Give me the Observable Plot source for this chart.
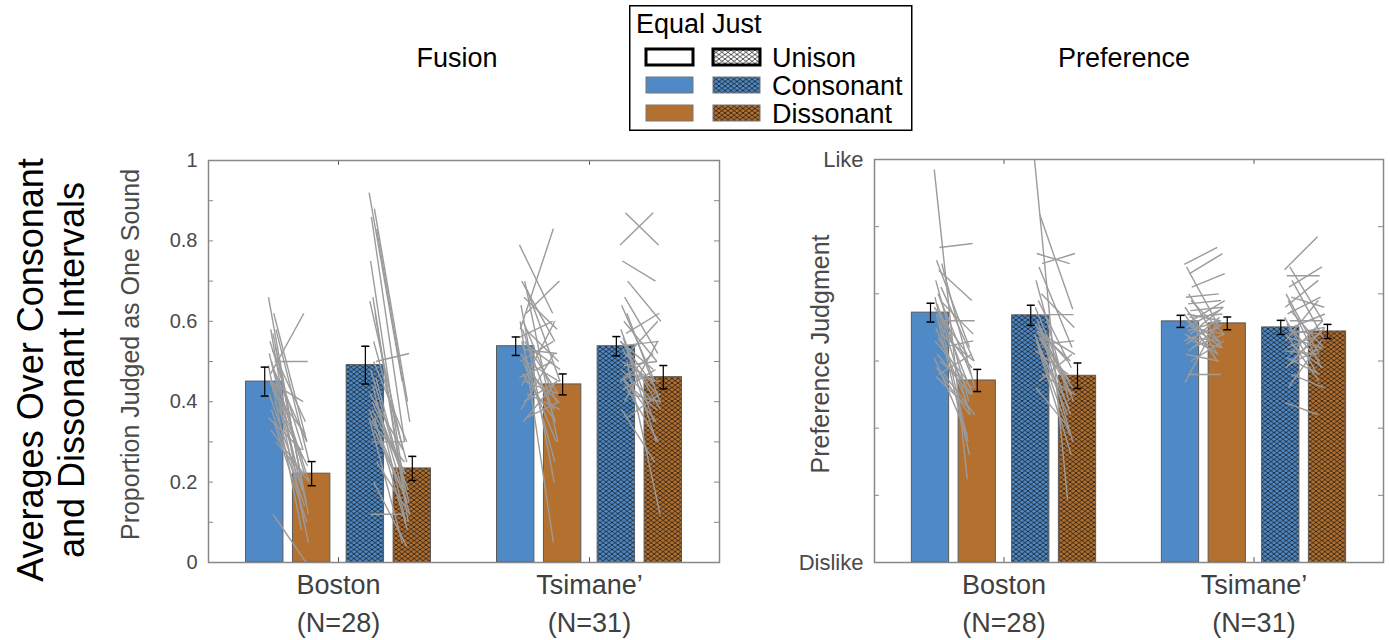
<!DOCTYPE html>
<html><head><meta charset="utf-8">
<script src="https://cdn.jsdelivr.net/npm/d3@7"></script>
<script src="https://cdn.jsdelivr.net/npm/@observablehq/plot@0.6"></script>
<style>
body{margin:0;background:#fff;font-family:"Liberation Sans",Arial,Helvetica,sans-serif;}
#root{position:relative;width:1390px;height:640px;overflow:hidden;background:#fff;}
.abs{position:absolute;}
.title{position:absolute;font-size:27px;color:#000;transform:translate(-50%,-50%);white-space:nowrap;}
#bigtitle{position:absolute;left:-208px;top:328px;width:520px;height:84px;font-size:36px;line-height:41px;text-align:center;color:#000;transform:rotate(-90deg);white-space:nowrap;}
</style></head><body>
<div id="root">
  <div id="bigtitle">Averages Over Consonant<br>and Dissonant Intervals</div>
  <div class="title" style="left:457px;top:58px;">Fusion</div>
  <div class="title" style="left:1124px;top:58px;">Preference</div>
  <div id="fusion" class="abs" style="left:0;top:140px;"></div>
  <div id="pref" class="abs" style="left:740px;top:140px;"></div>
  <svg id="legend" class="abs" style="left:629px;top:5px;" width="284" height="127"></svg>
</div>
<script>
// ---------- data ----------
const sites = ["Boston", "Tsimane’"];
const siteN = [28, 31];
const conditions = ["Equal Consonant", "Equal Dissonant", "Just Consonant", "Just Dissonant"];
const legendRows = ["Unison", "Consonant", "Dissonant"];
const legendCols = ["Equal", "Just"];

// bar means and standard errors (order: Equal Cons, Equal Diss, Just Cons, Just Diss)
const fusionMeanBoston = [0.450, 0.221, 0.491, 0.234];
const fusionSemBoston = [0.036, 0.030, 0.047, 0.030];
const fusionMeanTsimane = [0.538, 0.443, 0.538, 0.461];
const fusionSemTsimane = [0.023, 0.026, 0.024, 0.029];
const prefMeanBoston = [3.72, 2.71, 3.68, 2.78];
const prefSemBoston = [0.14, 0.165, 0.15, 0.19];
const prefMeanTsimane = [3.59, 3.56, 3.50, 3.44];
const prefSemTsimane = [0.09, 0.095, 0.105, 0.105];

// individual participants (consonant -> dissonant)
const fusionBostonEqualCons = [0.66,0.62,0.58,0.58,0.57,0.55,0.54,0.53,0.52,0.50,0.50,0.49,0.48,0.47,0.46,0.45,0.45,0.44,0.43,0.42,0.40,0.38,0.36,0.35,0.33,0.30,0.12,0.45];
const fusionBostonEqualDiss = [0.20,0.30,0.10,0.25,0.15,0.28,0.12,0.35,0.18,0.50,0.22,0.08,0.30,0.62,0.20,0.15,0.26,0.05,0.32,0.18,0.24,0.14,0.28,0.10,0.22,0.20,0.00,0.40];
const fusionBostonJustCons = [0.92,0.88,0.86,0.83,0.55,0.75,0.50,0.66,0.65,0.62,0.40,0.38,0.36,0.35,0.40,0.50,0.48,0.46,0.44,0.42,0.40,0.38,0.36,0.33,0.30,0.25,0.20,0.12];
const fusionBostonJustDiss = [0.45,0.40,0.30,0.35,0.25,0.20,0.52,0.15,0.28,0.10,0.22,0.18,0.08,0.25,0.12,0.30,0.20,0.15,0.10,0.28,0.18,0.22,0.05,0.15,0.30,0.12,0.04,0.12];
const fusionTsimaneEqualCons = [0.79,0.70,0.70,0.68,0.66,0.64,0.62,0.60,0.60,0.58,0.58,0.56,0.55,0.55,0.54,0.53,0.52,0.50,0.50,0.50,0.48,0.47,0.46,0.45,0.44,0.42,0.40,0.38,0.36,0.35,0.58];
const fusionTsimaneEqualDiss = [0.62,0.30,0.55,0.45,0.58,0.20,0.70,0.40,0.05,0.50,0.35,0.60,0.42,0.25,0.48,0.52,0.38,0.45,0.30,0.55,0.40,0.35,0.50,0.42,0.60,0.38,0.45,0.52,0.40,0.45,0.83];
const fusionTsimaneJustCons = [0.79,0.87,0.75,0.70,0.66,0.64,0.62,0.60,0.58,0.57,0.56,0.55,0.54,0.53,0.52,0.51,0.50,0.50,0.49,0.48,0.47,0.46,0.45,0.44,0.43,0.42,0.40,0.38,0.36,0.45,0.55];
const fusionTsimaneJustDiss = [0.87,0.79,0.70,0.60,0.52,0.45,0.40,0.50,0.35,0.62,0.30,0.48,0.55,0.42,0.38,0.60,0.45,0.12,0.50,0.40,0.45,0.35,0.52,0.30,0.48,0.40,0.55,0.25,0.42,0.38,0.44];

const prefBostonEqualCons = [5.85,4.69,4.50,4.45,4.35,4.20,4.10,4.00,3.95,3.90,3.85,3.80,3.75,3.70,3.60,3.55,3.50,3.40,3.35,3.30,3.20,3.10,3.05,3.00,2.90,2.85,2.80,2.77];
const prefBostonEqualDiss = [1.24,4.75,3.20,2.60,3.90,2.40,3.00,2.80,1.80,3.40,2.20,3.10,2.50,1.60,3.60,2.90,2.30,3.00,2.50,2.70,3.30,2.50,1.90,2.60,2.20,2.20,3.10,2.30];
const prefBostonJustCons = [6.00,5.18,4.60,4.45,4.40,4.20,4.00,3.90,3.80,3.69,3.60,3.55,3.50,3.45,3.40,3.35,3.30,3.25,3.20,3.15,3.50,3.45,3.40,3.35,3.30,2.80,2.70,2.60];
const prefBostonJustDiss = [0.94,3.77,4.45,4.60,3.20,2.40,3.50,2.90,2.60,3.69,2.20,3.00,1.80,2.70,3.10,2.50,2.30,3.30,1.60,2.80,2.40,3.00,2.20,2.60,1.90,2.50,3.10,2.00];
const prefTsimaneEqualCons = [4.44,4.30,4.40,4.10,4.00,3.95,3.90,3.85,3.80,3.75,3.70,3.70,3.65,3.60,3.60,3.55,3.50,3.50,3.45,3.40,3.40,3.35,3.30,3.30,3.25,3.20,3.15,3.10,3.00,2.80,2.68];
const prefTsimaneEqualDiss = [4.69,4.60,3.50,4.30,3.20,4.00,3.40,3.90,3.10,3.80,3.60,3.00,3.70,3.30,3.90,3.20,3.75,3.40,3.60,3.10,3.80,3.30,3.50,3.20,3.65,3.40,3.55,3.00,3.30,2.80,3.60];
const prefTsimaneJustCons = [4.36,4.40,4.27,4.20,4.10,4.00,3.95,3.90,3.80,3.75,3.70,3.65,3.60,3.55,3.50,3.45,3.40,3.40,3.35,3.30,3.25,3.20,3.15,3.10,3.05,3.00,2.95,2.90,2.80,2.60,2.38];
const prefTsimaneJustDiss = [4.85,3.60,4.27,3.30,4.40,3.10,3.80,2.90,4.20,3.20,3.95,2.80,3.60,3.00,3.70,3.40,2.70,3.50,3.20,3.90,2.90,3.40,3.10,3.60,2.80,3.50,3.20,3.40,2.60,3.30,2.20];

const fusionTicks = [0, 0.1, 0.2, 0.3, 0.4, 0.5, 0.6, 0.7, 0.8, 0.9, 1];
const fusionTickLabels = ["0", "", "0.2", "", "0.4", "", "0.6", "", "0.8", "", "1"];
const prefTicks = [0, 1, 2, 3, 4, 5, 6];
const prefTickLabels = ["Dislike", "", "", "", "", "", "Like"];

// ---------- styling ----------
const FONT = '"Liberation Sans", Arial, Helvetica, sans-serif';
const BLUE = "#4f8ac6", ORANGE = "#b3702f";
const fills = [BLUE, ORANGE, "url(#hatchBlue)", "url(#hatchOrange)"];
const XDOM = [0.482, 2.518];
const offsets = [-0.294, -0.107, 0.107, 0.294];
const BW = 0.149;
const CAP = 0.016;
const TICKLEN = 0.02;

// ---------- legend & patterns ----------
const leg = d3.select("#legend");
const defs = leg.append("defs");
function hatch(id, bg) {
  const p = defs.append("pattern").attr("id", id).attr("patternUnits", "userSpaceOnUse")
    .attr("width", 6).attr("height", 4.5);
  p.append("rect").attr("width", 6).attr("height", 4.5).attr("fill", bg);
  p.append("path").attr("d", "M0,0L6,4.5M0,4.5L6,0M-3,2.25L0,4.5M6,0L9,2.25")
    .attr("stroke", "#111").attr("stroke-width", 0.75).attr("fill", "none");
}
hatch("hatchBlue", BLUE);
hatch("hatchOrange", ORANGE);
hatch("hatchWhite", "#fff");
leg.append("rect").attr("x", 0.75).attr("y", 0.75).attr("width", 282).attr("height", 124.5)
  .attr("fill", "#fff").attr("stroke", "#000").attr("stroke-width", 1.5);
legendCols.forEach((c, i) => {
  leg.append("text").attr("x", i ? 83 : 7).attr("y", 28).attr("font-family", FONT).attr("font-size", 27)
    .text(c);
});
const rowFills = [["#fff", "url(#hatchWhite)"], [BLUE, "url(#hatchBlue)"], [ORANGE, "url(#hatchOrange)"]];
legendRows.forEach((r, i) => {
  const y = 44 + i * 28;
  [0, 1].forEach(c => {
    const thick = i === 0;
    leg.append("rect").attr("x", c ? 84 : 17).attr("y", y).attr("width", 47).attr("height", 16)
      .attr("fill", rowFills[i][c]).attr("stroke", thick ? "#000" : "#777")
      .attr("stroke-width", thick ? 3 : 1);
  });
  leg.append("text").attr("x", 143).attr("y", y + 18).attr("font-family", FONT).attr("font-size", 27)
    .text(r);
});

// ---------- chart builder ----------
function barRows(mB, sB, mT, sT) {
  const rows = [];
  [[mB, sB], [mT, sT]].forEach(([m, s], g) => {
    m.forEach((v, k) => rows.push({site: g + 1, k, cond: conditions[k], x: g + 1 + offsets[k], mean: v, sem: s[k]}));
  });
  return rows;
}
const jit = i => (((i * 7) % 11) - 5) * 0.003;
function pairRows(site, kCons, cons, diss) {
  return cons.map((c, i) => ({
    c, d: diss[i],
    x1: site + offsets[kCons] + 0.03 + jit(i),
    x2: site + offsets[kCons + 1] - 0.025 + jit(i)
  }));
}

function panel({width, marginLeft, marginRight, marginTop, yDomain, bars, pairs, ticks, tickLabels, tickFont, yLabel, yLabelDx}) {
  const top = yDomain[1], bot = yDomain[0];
  const span = top - bot;
  return Plot.plot({
    width, height: 500, marginLeft, marginRight, marginTop, marginBottom: 78,
    x: {domain: XDOM, axis: null},
    y: {domain: yDomain, axis: null},
    color: {type: "identity"},
    style: {fontFamily: FONT, background: "transparent", overflow: "visible"},
    marks: [
      Plot.rect(bars, {x1: d => d.x - BW / 2, x2: d => d.x + BW / 2, y1: bot, y2: "mean",
        fill: d => fills[d.k], stroke: "#5a5a5a", strokeWidth: 1}),
      Plot.link(pairs, {x1: "x1", y1: "c", x2: "x2", y2: "d", stroke: "#9b9b9b", strokeWidth: 1.4, clip: true}),
      Plot.ruleX(bars, {x: "x", y1: d => d.mean - d.sem, y2: d => d.mean + d.sem, stroke: "#000", strokeWidth: 1.2}),
      Plot.link(bars, {x1: d => d.x - CAP, x2: d => d.x + CAP, y1: d => d.mean + d.sem, y2: d => d.mean + d.sem, stroke: "#000", strokeWidth: 1.5}),
      Plot.link(bars, {x1: d => d.x - CAP, x2: d => d.x + CAP, y1: d => d.mean - d.sem, y2: d => d.mean - d.sem, stroke: "#000", strokeWidth: 1.5}),
      // inward ticks
      Plot.ruleY(ticks, {x1: XDOM[0], x2: XDOM[0] + TICKLEN, stroke: "#888", strokeWidth: 1}),
      Plot.ruleY(ticks, {x1: XDOM[1] - TICKLEN, x2: XDOM[1], stroke: "#888", strokeWidth: 1}),
      Plot.ruleX([1, 2], {y1: top, y2: top - span * 0.012, stroke: "#555", strokeWidth: 1}),
      Plot.ruleX([1, 2], {y1: bot, y2: bot + span * 0.012, stroke: "#555", strokeWidth: 1}),
      Plot.frame({stroke: "#888", strokeWidth: 1.5}),
      Plot.text(ticks, {x: XDOM[0], y: d => d, text: (d, i) => tickLabels[i], textAnchor: "end", dx: -11,
        fontSize: tickFont, fill: "#4a4a4a"}),
      Plot.text(sites, {x: (d, i) => i + 1, text: (d, i) => d + "\n(N=" + siteN[i] + ")", frameAnchor: "bottom",
        lineAnchor: "top", dy: 5, fontSize: 27, lineHeight: 1.4, fill: "#404040"}),
      Plot.text([yLabel], {frameAnchor: "left", textAnchor: "middle", rotate: -90, dx: yLabelDx, dy: -7, fontSize: 25, fill: "#4a4a4a"})
    ]
  });
}

const fusionBars = barRows(fusionMeanBoston, fusionSemBoston, fusionMeanTsimane, fusionSemTsimane);
const fusionPairs = [
  ...pairRows(1, 0, fusionBostonEqualCons, fusionBostonEqualDiss),
  ...pairRows(1, 2, fusionBostonJustCons, fusionBostonJustDiss),
  ...pairRows(2, 0, fusionTsimaneEqualCons, fusionTsimaneEqualDiss),
  ...pairRows(2, 2, fusionTsimaneJustCons, fusionTsimaneJustDiss)
];
const prefBars = barRows(prefMeanBoston, prefSemBoston, prefMeanTsimane, prefSemTsimane);
const prefPairs = [
  ...pairRows(1, 0, prefBostonEqualCons, prefBostonEqualDiss),
  ...pairRows(1, 2, prefBostonJustCons, prefBostonJustDiss),
  ...pairRows(2, 0, prefTsimaneEqualCons, prefTsimaneEqualDiss),
  ...pairRows(2, 2, prefTsimaneJustCons, prefTsimaneJustDiss)
];

document.getElementById("fusion").append(panel({
  width: 740, marginLeft: 208, marginRight: 21, marginTop: 20, yDomain: [0, 1],
  bars: fusionBars, pairs: fusionPairs, ticks: fusionTicks, tickLabels: fusionTickLabels, tickFont: 20,
  yLabel: "Proportion Judged as One Sound", yLabelDx: -78
}));
document.getElementById("pref").append(panel({
  width: 650, marginLeft: 134, marginRight: 7, marginTop: 19, yDomain: [0, 6],
  bars: prefBars, pairs: prefPairs, ticks: prefTicks, tickLabels: prefTickLabels, tickFont: 22,
  yLabel: "Preference Judgment", yLabelDx: -54
}));
</script>
</body></html>
